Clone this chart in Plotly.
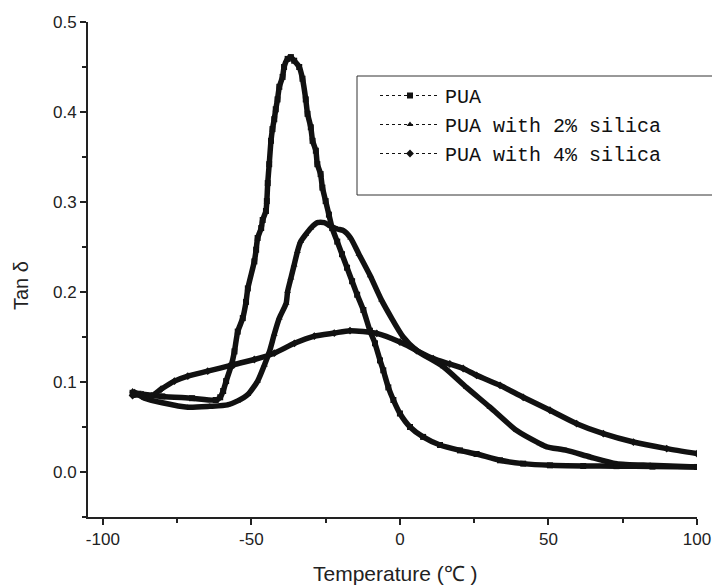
import plotly.graph_objects as go

# PUA (squares)
pua_x = [-90, -88, -80, -70, -62, -60.5, -59.5, -58.5, -56.8, -55.7, -54.6, -52.9, -51.8, -51.2, -49.0,
         -48.4, -47.9, -46.7, -46.2, -45.1, -44.8, -44.5, -44.0, -43.4, -42.9, -42.3, -41.8, -41.2, -40.6,
         -39.5, -39.0, -37.8, -36.7, -35.6, -33.9, -32.8, -31.7, -31.1, -30.0, -29.4, -28.3, -27.8, -26.7,
         -26.1, -25.0, -23.9, -22.8, -21.1, -19.5, -17.8, -16.1, -14.4, -12.3, -10.1, -8.4, -6.7, -5.6,
         -3.9, -2.2, 0, 3.4, 7.8, 13.5, 20.2, 25.8, 33.7, 41.5, 50.5, 61.7, 72.9, 85, 100]
pua_y = [0.088, 0.087, 0.084, 0.082, 0.080, 0.083, 0.090, 0.101, 0.118, 0.134, 0.156, 0.171, 0.189, 0.204,
         0.234, 0.247, 0.260, 0.271, 0.280, 0.290, 0.301, 0.321, 0.342, 0.368, 0.381, 0.392, 0.403, 0.414,
         0.428, 0.439, 0.450, 0.459, 0.461, 0.457, 0.450, 0.437, 0.414, 0.398, 0.383, 0.368, 0.357, 0.342,
         0.331, 0.316, 0.301, 0.286, 0.271, 0.256, 0.242, 0.227, 0.212, 0.197, 0.180, 0.157, 0.143, 0.124,
         0.113, 0.094, 0.080, 0.065, 0.050, 0.039, 0.030, 0.024, 0.020, 0.013, 0.0093, 0.0074, 0.0067,
         0.0065, 0.006, 0.0056]

# PUA with 2% silica (triangles)
s2_x = [-90, -86, -80, -71.4, -64, -58, -54.6, -51.2, -47.9, -45.6, -43.9, -42.3, -40.6, -38.3, -37.8,
        -36.7, -35.6, -34.5, -33.4, -31.7, -30.0, -27.8, -25.5, -23.3, -21.1, -18.9, -16.6, -13.8, -10,
        -6.2, 1.1, 5.6, 14.6, 22.4, 30.3, 39.3, 47.1, 49.4, 56.1, 64, 72.9, 84.2, 100]
s2_y = [0.090, 0.082, 0.077, 0.072, 0.073, 0.0746, 0.079, 0.086, 0.101, 0.119, 0.134, 0.153, 0.171, 0.1875,
        0.2007, 0.2155, 0.230, 0.245, 0.256, 0.264, 0.271, 0.277, 0.277, 0.273, 0.270, 0.268, 0.260, 0.242,
        0.218, 0.191, 0.150, 0.135, 0.117, 0.094, 0.072, 0.046, 0.0315, 0.028, 0.024, 0.0167, 0.0093,
        0.0074, 0.0056]

# PUA with 4% silica (diamonds)
s4_x = [-90, -86.5, -83.7, -80.4, -75.9, -71.4, -64.7, -55.7, -49.0, -42.3, -35.5, -28.8, -22.1, -16.8,
        -7.8, 0, 5.6, 11.2, 16.8, 21.3, 25.8, 33.7, 41.5, 50.5, 59.5, 68.5, 78.6, 89.8, 100]
s4_y = [0.085, 0.086, 0.0846, 0.092, 0.101, 0.1066, 0.112, 0.1195, 0.125, 0.132, 0.143, 0.151, 0.1544,
        0.157, 0.154, 0.1444, 0.135, 0.126, 0.120, 0.115, 0.1074, 0.0963, 0.083, 0.0686, 0.0537, 0.0426,
        0.0333, 0.026, 0.0204]

names = ["PUA", "PUA with 2% silica", "PUA with 4% silica"]
symbols = ["square", "triangle-up", "diamond"]
xs = [pua_x, s2_x, s4_x]
ys = [pua_y, s2_y, s4_y]

x_ticks = [-100, -50, 0, 50, 100]
y_ticks = [0.0, 0.1, 0.2, 0.3, 0.4, 0.5]

W, H = 712, 586
L, T = 88, 22
R = W - 697
B = H - 517
PW, PH = W - L - R, H - T - B


def px(X):  # reference pixel x -> paper x
    return (X - L) / PW


def py(Y):  # reference pixel y -> paper y
    return (H - B - Y) / PH


fig = go.Figure()
for x, y in zip(xs, ys):
    fig.add_trace(go.Scatter(x=x, y=y, mode="lines",
                             line=dict(color="#111111", width=5.5, shape="spline", smoothing=0.6),
                             showlegend=False, hoverinfo="skip"))
for x, y, n, s in zip(xs, ys, names, symbols):
    fig.add_trace(go.Scatter(x=x, y=y, name=n, mode="lines+markers",
                             line=dict(color="#111111", width=1, dash="dot"),
                             marker=dict(symbol=s, size=6, color="#111111")))

sans = "Liberation Sans, Arial, sans-serif"
axis_common = dict(showline=True, linecolor="#222222", linewidth=2, ticks="outside", ticklen=6, tickwidth=1.5,
                   tickcolor="#222222", showgrid=False, zeroline=False, mirror=False, automargin=False,
                   tickfont=dict(family=sans, size=17, color="#222222"))

fig.update_layout(
    width=W, height=H,
    margin=dict(l=L, r=R, t=T, b=B, autoexpand=False),
    paper_bgcolor="white", plot_bgcolor="white",
    xaxis=dict(range=[-105, 100], tickvals=x_ticks, ticktext=[str(v) for v in x_ticks],
               minor=dict(dtick=25, tick0=0, ticks="outside", ticklen=4, tickcolor="#222222"),
               **axis_common),
    yaxis=dict(range=[-0.05, 0.5], tickvals=y_ticks, ticktext=[f"{v:.1f}" for v in y_ticks],
               minor=dict(dtick=0.05, tick0=0, ticks="outside", ticklen=4, tickcolor="#222222"),
               **axis_common),
    legend=dict(x=px(375), y=py(76), xanchor="left", yanchor="top",
                bgcolor="rgba(0,0,0,0)", borderwidth=0, itemwidth=60, tracegroupgap=0,
                font=dict(family="Liberation Mono, DejaVu Sans Mono, monospace", size=20, color="#111111")),
    shapes=[dict(type="rect", xref="paper", yref="paper", x0=px(357), x1=px(740),
                 y0=py(195), y1=py(76), line=dict(color="#333333", width=1))],
    annotations=[
        dict(text="Temperature (℃ )", xref="paper", yref="paper", x=px(395), y=py(573),
             xanchor="center", yanchor="middle", showarrow=False,
             font=dict(family=sans, size=21, color="#222222")),
        dict(text="Tan δ", xref="paper", yref="paper", x=px(21), y=py(286),
             xanchor="center", yanchor="middle", showarrow=False, textangle=-90,
             font=dict(family=sans, size=20, color="#222222")),
    ],
)

fig.write_html("out.html", config={"displayModeBar": False},
               post_script="document.body.style.margin='0';document.body.style.overflow='hidden';")
